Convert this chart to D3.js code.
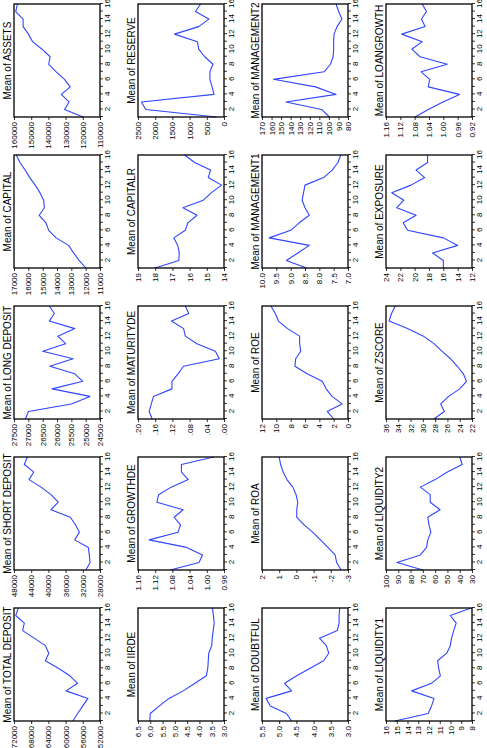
<!DOCTYPE html>
<html><head><meta charset="utf-8">
<script src="https://cdn.jsdelivr.net/npm/d3@7"></script>
<style>html,body{margin:0;padding:0;background:#fff;} svg{display:block}</style>
</head><body><svg id="c" width="487" height="748"></svg>
<script>
const years = d3.range(1, 17);
const yearLabels = [2, 4, 6, 8, 10, 12, 14, 16];

const titles = ["Mean of TOTAL DEPOSIT","Mean of SHORT DEPOSIT","Mean of LONG DEPOSIT","Mean of CAPITAL","Mean of ASSETS",
  "Mean of IIRDE","Mean of GROWTHDE","Mean of MATURITYDE","Mean of CAPITALR","Mean of RESERVE",
  "Mean of DOUBTFUL","Mean of ROA","Mean of ROE","Mean of MANAGEMENT1","Mean of MANAGEMENT2",
  "Mean of LIQUIDITY1","Mean of LIQUIDITY2","Mean of ZSCORE","Mean of EXPOSURE","Mean of LOANGROWTH"];

const totalDeposit = [58300,57200,56000,54800,59900,57200,59000,61700,64700,63900,64700,67300,70000,69600,71600,71000];
const shortDeposit = [31300,30300,30500,30700,33900,32800,33700,34900,39400,37700,39400,41700,44500,43400,45600,44900];
const longDeposit = [27100,27000,25500,24850,26170,25100,25380,26250,25440,26500,25700,25970,25380,26270,26090,26270];
const capital = [11990,12460,12840,13190,14060,14580,14770,15240,14880,14930,15190,15520,15900,16220,16580,16840];
const assets = [119800,130600,128000,132500,127300,130600,135500,139800,139000,143700,149200,151600,154700,154700,159000,158000];
const iirde = [6.02,6.0,5.63,5.24,4.66,4.18,3.72,3.66,3.64,3.62,3.5,3.48,3.44,3.4,3.43,3.47];
const growthde = [1.085,1.018,1.010,1.047,1.134,1.067,1.061,1.076,1.055,1.116,1.112,1.083,1.043,1.059,1.059,0.984];
const maturityde = [0.167,0.174,0.169,0.164,0.121,0.121,0.107,0.094,0.011,0.020,0.063,0.090,0.094,0.122,0.082,0.090];
const capitalr = [18.0,16.63,16.6,16.69,16.92,16.25,16.1,15.57,16.39,15.2,14.73,14.14,14.92,14.78,15.71,16.29];
const reserve = [220,2275,2400,290,345,410,410,320,560,735,775,1440,735,440,830,680];
const doubtful = [4.64,4.79,5.26,5.38,4.64,4.84,4.49,4.10,3.71,3.56,3.63,3.83,3.31,3.26,3.26,3.24];
const roa = [-2.6,-2.34,-2.25,-1.83,-1.4,-0.96,-0.45,-0.02,-0.02,-0.08,0.02,0.21,0.55,0.77,0.92,1.0];
const roe = [2.0,2.9,0.83,2.22,3.05,3.6,5.7,7.4,7.3,6.6,6.75,6.75,8.45,9.7,10.15,10.75];
const management1 = [8.45,9.15,8.75,8.35,9.75,9.0,8.7,8.35,8.5,8.6,8.55,8.5,7.85,7.55,7.35,7.25];
const management2 = [99.4,107.7,145,92.5,114,158,105,98.4,95.6,95,95,94.6,91.5,86.3,89.8,92.5];
const liquidity1 = [15.18,12.08,11.76,11.53,13.62,11.76,10.94,11.1,11.2,10.35,10.02,9.9,9.7,9.47,10.02,8.07];
const liquidity2 = [70,91,72,67,66,63.5,65,66,56,64,64,72,60,50,38,40];
const zscore = [28.2,26.5,27.1,25.8,24.0,22.9,23.4,24.4,25.5,26.9,28.2,29.9,32.5,35.5,35.1,34.5];
const exposure = [16,16,17.5,14,16,21,21.6,19.8,22.5,21.5,23.2,20.5,18.6,19.8,18.2,18.2];
const loangrowth = [1.079,1.042,1.001,0.955,1.042,1.038,1.062,0.989,1.065,1.088,1.059,1.116,1.051,1.061,1.047,1.059];

const ticksTotalDeposit = [52000,56000,60000,64000,68000,72000];
const ticksShortDeposit = [28000,32000,36000,40000,44000,48000];
const ticksLongDeposit = [24500,25000,25500,26000,26500,27000,27500];
const ticksCapital = [11000,12000,13000,14000,15000,16000,17000];
const ticksAssets = [110000,120000,130000,140000,150000,160000];
const ticksIirde = [3.0,3.5,4.0,4.5,5.0,5.5,6.0,6.5];
const ticksGrowthde = [0.96,1.00,1.04,1.08,1.12,1.16];
const ticksMaturityde = [0.00,0.04,0.08,0.12,0.16,0.20];
const ticksCapitalr = [14,15,16,17,18,19];
const ticksReserve = [0,500,1000,1500,2000,2500];
const ticksDoubtful = [3.0,3.5,4.0,4.5,5.0,5.5];
const ticksRoa = [-3,-2,-1,0,1,2];
const ticksRoe = [0,2,4,6,8,10,12];
const ticksManagement1 = [7.0,7.5,8.0,8.5,9.0,9.5,10.0];
const ticksManagement2 = [80,90,100,110,120,130,140,150,160,170];
const ticksLiquidity1 = [8,9,10,11,12,13,14,15,16];
const ticksLiquidity2 = [30,40,50,60,70,80,90,100];
const ticksZscore = [22,24,26,28,30,32,34,36];
const ticksExposure = [12,14,16,18,20,22,24];
const ticksLoangrowth = [0.92,0.96,1.00,1.04,1.08,1.12,1.16];

const fInt = d => String(d);
const f1 = d => d.toFixed(1);
const f2 = d => d.toFixed(2);
const fDot = d => d.toFixed(2).replace(/^0/, "");

const series = [totalDeposit, shortDeposit, longDeposit, capital, assets,
  iirde, growthde, maturityde, capitalr, reserve,
  doubtful, roa, roe, management1, management2,
  liquidity1, liquidity2, zscore, exposure, loangrowth];
const tickSets = [ticksTotalDeposit, ticksShortDeposit, ticksLongDeposit, ticksCapital, ticksAssets,
  ticksIirde, ticksGrowthde, ticksMaturityde, ticksCapitalr, ticksReserve,
  ticksDoubtful, ticksRoa, ticksRoe, ticksManagement1, ticksManagement2,
  ticksLiquidity1, ticksLiquidity2, ticksZscore, ticksExposure, ticksLoangrowth];
const formats = [fInt, fInt, fInt, fInt, fInt,
  f1, f2, fDot, fInt, fInt,
  f1, fInt, fInt, f1, fInt,
  fInt, fInt, fInt, fInt, f2];

const FONT = '"Liberation Sans Narrow", "Arial Narrow", "Liberation Sans", Arial, sans-serif';
const svg = d3.select("#c");
// Whole figure is landscape, rotated 90 degrees counter-clockwise
const root = svg.append("g").attr("transform", "translate(0,748) rotate(-90)");

series.forEach((vals, i) => {
  const c = i % 5, r = Math.floor(i / 5);
  const x0 = 27 + c * 151, x1 = x0 + 113;
  const y0 = 14 + r * 124, y1 = y0 + 86;
  const ticks = tickSets[i];
  const x = d3.scaleLinear().domain([1, 16]).range([x0, x1]);
  const y = d3.scaleLinear().domain([ticks[0], ticks[ticks.length - 1]]).range([y1, y0]);
  const g = root.append("g");

  const xa = g.append("g").attr("transform", `translate(0,${y1})`)
    .call(d3.axisBottom(x).tickValues(years).tickSize(3).tickPadding(1.5)
      .tickFormat(d => yearLabels.includes(d) ? String(d) : ""));
  const ya = g.append("g").attr("transform", `translate(${x0},0)`)
    .call(d3.axisLeft(y).tickValues(ticks).tickSize(3).tickPadding(2).tickFormat(formats[i]));
  [xa, ya].forEach(a => {
    a.attr("font-family", FONT).attr("font-size", 8);
    a.select(".domain").remove();
    a.selectAll(".tick line").attr("stroke", "#000").attr("stroke-width", 0.8);
    a.selectAll("text").attr("fill", "#000");
  });

  g.append("path").datum(vals)
    .attr("fill", "none").attr("stroke", "#2f45ff").attr("stroke-width", 1.1)
    .attr("stroke-linejoin", "round")
    .attr("d", d3.line().x((d, k) => x(years[k])).y(d => y(d)));

  g.append("rect").attr("x", x0).attr("y", y0).attr("width", x1 - x0).attr("height", y1 - y0)
    .attr("fill", "none").attr("stroke", "#000").attr("stroke-width", 1.3);

  g.append("text").attr("x", (x0 + x1) / 2).attr("y", y0 - 3.5)
    .attr("text-anchor", "middle").attr("font-family", FONT).attr("font-size", 10)
    .attr("fill", "#000").text(titles[i]);
});
</script></body></html>
